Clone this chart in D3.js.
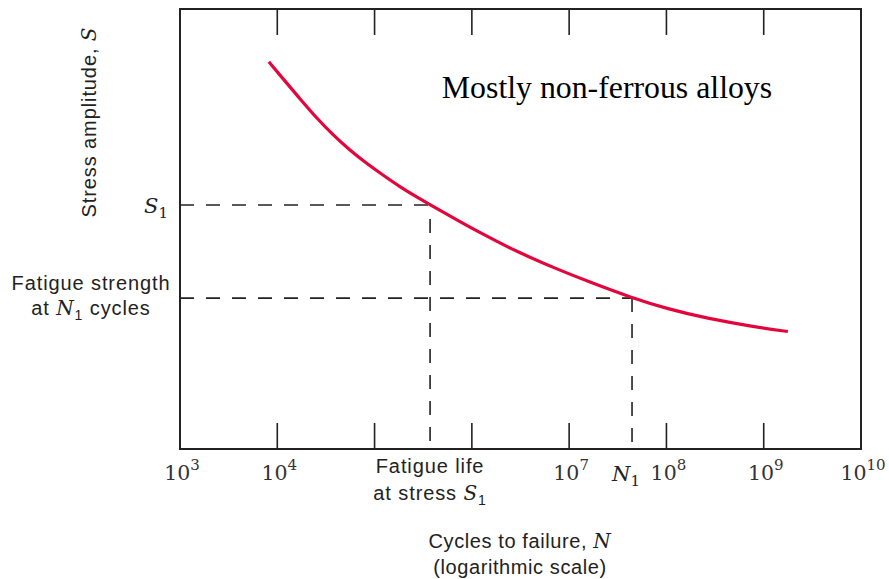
<!DOCTYPE html>
<html>
<head>
<meta charset="utf-8">
<script src="https://cdn.jsdelivr.net/npm/d3@7"></script>
<style>
  html, body { margin: 0; padding: 0; background: #fff; }
  svg { display: block; }
</style>
</head>
<body>
<svg id="chart" width="889" height="579"></svg>
<script>
// ---- Data ----
// Cycles to failure N (log axis) and stress amplitude S (arbitrary units, 0-100)
const cycles = [8.2e3, 1.15e4, 1.71e4, 2.54e4, 3.77e4, 5.58e4, 8.3e4, 1.23e5, 1.82e5,
                2.71e5, 4.02e5, 1.21e6, 3.13e6, 7.67e6, 1.64e7, 4.22e7, 1.04e8, 2.59e8,
                7.82e8, 1.77e9];
const stress = [88.0, 84.1, 79.6, 75.2, 71.3, 67.9, 64.9, 62.2, 59.6,
                57.3, 55.1, 49.1, 44.5, 40.8, 37.9, 34.5, 31.8, 29.7,
                27.8, 26.7];
const tickExponents = [3, 4, 5, 6, 7, 8, 9, 10];
const labelExponents = [3, 4, 7, 8, 9, 10];
const fatigueLifeN = 3.72e5;   // fatigue life at stress S1
const S1 = 55.45;
const N1 = 4.43e7;
const fatigueStrengthN1 = 34.3;
const annotation = "Mostly non-ferrous alloys";

// ---- Scales ----
const x = d3.scaleLog().domain([1e3, 1e10]).range([180, 861]);
const y = d3.scaleLinear().domain([0, 100]).range([449, 9]);

const svg = d3.select("#chart");
const ink = "#222";
const sans = "'Liberation Sans', Arial, Helvetica, sans-serif";
const serif = "'Liberation Serif', 'Times New Roman', serif";
const mathSerif = "'DejaVu Serif', 'Liberation Serif', serif";

// Frame
svg.append("rect")
  .attr("x", x(1e3)).attr("y", y(100))
  .attr("width", x(1e10) - x(1e3)).attr("height", y(0) - y(100))
  .attr("fill", "none").attr("stroke", ink).attr("stroke-width", 2);

// Ticks (bottom and top, inward)
const innerTicks = tickExponents.filter(e => e > 3 && e < 10).map(e => Math.pow(10, e));
const tickLen = 26;
svg.append("g").selectAll("line").data(innerTicks).join("line")
  .attr("x1", d => x(d)).attr("x2", d => x(d))
  .attr("y1", y(0)).attr("y2", y(0) - tickLen)
  .attr("stroke", ink).attr("stroke-width", 1.6);
svg.append("g").selectAll("line").data(innerTicks).join("line")
  .attr("x1", d => x(d)).attr("x2", d => x(d))
  .attr("y1", y(100)).attr("y2", y(100) + tickLen)
  .attr("stroke", ink).attr("stroke-width", 1.6);

// Tick labels 10^k
const tl = svg.append("g").selectAll("text").data(labelExponents).join("text")
  .attr("x", d => x(Math.pow(10, d)) + 2)
  .attr("y", 480)
  .attr("text-anchor", "middle")
  .attr("font-family", mathSerif).attr("font-size", 20.5).attr("fill", "#333");
tl.append("tspan").text("10");
tl.append("tspan").attr("dy", -10).attr("font-size", 15).text(d => d);

// Dashed reference lines
const dash = "14 12";
function dashed(x1, y1, x2, y2) {
  svg.append("line").attr("x1", x1).attr("y1", y1).attr("x2", x2).attr("y2", y2)
    .attr("stroke", ink).attr("stroke-width", 1.6).attr("stroke-dasharray", dash);
}
dashed(x(1e3), y(S1), x(fatigueLifeN), y(S1));
dashed(x(fatigueLifeN), y(S1) + 14, x(fatigueLifeN), y(0));
dashed(x(1e3), y(fatigueStrengthN1), x(N1), y(fatigueStrengthN1));
dashed(x(N1), y(fatigueStrengthN1), x(N1), y(0));

// S-N curve
const pts = cycles.map((c, i) => [c, stress[i]]);
svg.append("path").datum(pts)
  .attr("d", d3.line().x(d => x(d[0])).y(d => y(d[1])).curve(d3.curveBasis))
  .attr("fill", "none").attr("stroke", "#e3063c").attr("stroke-width", 3.2)
  .attr("stroke-linecap", "butt");

// Annotation
svg.append("text").attr("x", 607).attr("y", 98).attr("text-anchor", "middle")
  .attr("font-family", serif).attr("font-size", 31.8).attr("fill", "#000")
  .text(annotation);

// Y axis title (rotated)
const yt = svg.append("text")
  .attr("transform", "translate(96,122) rotate(-90)")
  .attr("text-anchor", "middle")
  .attr("font-family", sans).attr("font-size", 20).attr("letter-spacing", 0.9).attr("fill", ink);
yt.append("tspan").text("Stress amplitude, ");
yt.append("tspan").attr("font-family", mathSerif).attr("font-style", "italic").text("S");

// S1 label
const s1 = svg.append("text").attr("x", 156).attr("y", 213).attr("text-anchor", "middle")
  .attr("font-family", mathSerif).attr("font-size", 21).attr("fill", ink);
s1.append("tspan").attr("font-style", "italic").text("S");
s1.append("tspan").attr("dy", 5).attr("font-size", 15).text("1");

// Fatigue strength label
const fs = svg.append("text").attr("text-anchor", "middle")
  .attr("font-family", sans).attr("font-size", 20).attr("letter-spacing", 0.9).attr("fill", ink);
fs.append("tspan").attr("x", 91).attr("y", 290).text("Fatigue strength");
fs.append("tspan").attr("x", 91).attr("y", 315).text("at ");
fs.append("tspan").attr("font-family", mathSerif).attr("font-style", "italic").text("N");
fs.append("tspan").attr("dy", 5).attr("font-size", 14).text("1");
fs.append("tspan").attr("dy", -5).text(" cycles");

// Fatigue life label
const fl = svg.append("text").attr("text-anchor", "middle")
  .attr("font-family", sans).attr("font-size", 20).attr("letter-spacing", 0.9).attr("fill", ink);
fl.append("tspan").attr("x", x(fatigueLifeN)).attr("y", 473).text("Fatigue life");
fl.append("tspan").attr("x", x(fatigueLifeN)).attr("y", 500).text("at stress ");
fl.append("tspan").attr("font-family", mathSerif).attr("font-style", "italic").text("S");
fl.append("tspan").attr("dy", 5).attr("font-size", 14).text("1");

// N1 label
const n1 = svg.append("text").attr("x", x(N1) - 6).attr("y", 481).attr("text-anchor", "middle")
  .attr("font-family", mathSerif).attr("font-size", 21).attr("fill", ink);
n1.append("tspan").attr("font-style", "italic").text("N");
n1.append("tspan").attr("dy", 5).attr("font-size", 15).text("1");

// X axis title
const xt = svg.append("text").attr("text-anchor", "middle")
  .attr("font-family", sans).attr("font-size", 20).attr("letter-spacing", 0.6).attr("fill", ink);
xt.append("tspan").attr("x", 520).attr("y", 548).text("Cycles to failure, ");
xt.append("tspan").attr("font-family", mathSerif).attr("font-style", "italic").text("N");
xt.append("tspan").attr("x", 520).attr("y", 574).text("(logarithmic scale)");
</script>
</body>
</html>
